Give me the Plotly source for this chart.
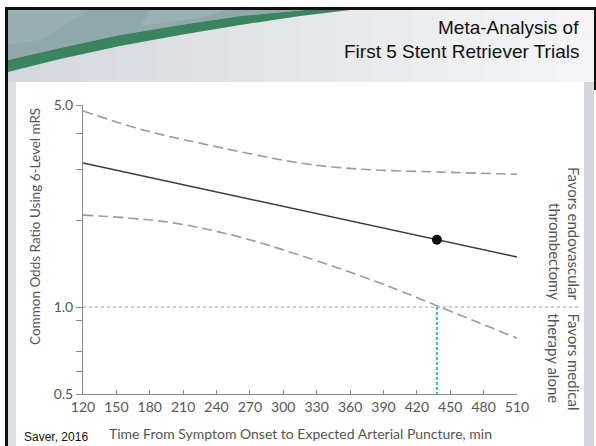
import plotly.graph_objects as go
import math

# ---------------- data ----------------
est_time = [120, 510]
est_or = [3.15, 1.49]

upper_time = [120, 174, 225, 315, 369, 441, 510]
upper_or = [4.77, 4.10, 3.69, 3.15, 3.00, 2.93, 2.88]

lower_time = [120, 195, 255, 315, 387, 438, 510]
lower_or = [2.08, 1.97, 1.77, 1.51, 1.21, 1.01, 0.78]

point_time = [438]
point_or = [1.71]

cross_time = 438
ref_or = 1.0
y_min, y_max = 0.5, 5.0

x_ticks = list(range(120, 511, 30))
y_tickvals = [0.5, 0.6, 0.7, 0.9, 1.0, 2, 3, 4, 5.0]
y_ticktext = ["0.5", "", "", "", "1.0", "", "", "", "5.0"]

# ---------------- layout geometry ----------------
W, H = 596, 446
L, R, T, B = 83, 79, 105, 52
PW, PH = W - L - R, H - T - B


def px(x):
    return (x - L) / PW


def py(y):
    return (H - B - y) / PH


def rect(x0, y0, x1, y1, color):
    return dict(type="rect", xref="paper", yref="paper", layer="below",
                x0=px(x0), x1=px(x1), y0=py(y1), y1=py(y0),
                fillcolor=color, line=dict(width=0))


def path(points, color):
    d = "M " + " L ".join(f"{px(a):.5f},{py(b):.5f}" for a, b in points) + " Z"
    return dict(type="path", xref="paper", yref="paper", layer="below",
                path=d, fillcolor=color, line=dict(width=0))


shapes = []
# content area white + side strips
shapes.append(rect(0, 0, W, H, "#ffffff"))
shapes.append(rect(8, 10, 16, H, "#dfe0e4"))
shapes.append(rect(584, 10, 594, H, "#d5d6db"))

# header gradient
n = 16
c0 = (0xd6, 0xd8, 0xdd)
c1 = (0xf5, 0xf5, 0xf7)
for i in range(n):
    t = i / (n - 1)
    c = tuple(int(c0[k] + (c1[k] - c0[k]) * t) for k in range(3))
    xa = 8 + (594 - 8) * i / n
    xb = 8 + (594 - 8) * (i + 1) / n + 1
    shapes.append(rect(xa, 10, xb, 82, "rgb(%d,%d,%d)" % c))

upper_edge = [(8, 60), (60, 48), (120, 35), (180, 25), (240, 16), (305, 10)]
lower_edge = [(8, 72), (60, 59), (120, 46), (180, 35), (240, 25), (300, 16), (350, 10)]

# teal textured area
shapes.append(path([(8, 10)] + list(reversed(upper_edge)), "#8fa8aa"))
shapes.append(path([(8, 10), (90, 10), (40, 40), (8, 45)], "#98b0b2"))
shapes.append(path([(150, 10), (230, 10), (200, 18), (140, 26)], "#9ab1b3"))
# green band
shapes.append(path(upper_edge + list(reversed(lower_edge)), "#3a8560"))

# black frame lines
shapes.append(rect(5, 7, W, 10, "#111111"))
shapes.append(rect(5, 7, 8, H, "#111111"))
shapes.append(rect(594, 7, W, 90, "#111111"))

# reference line at OR = 1.0 (extends into the right label area)
y_ref_paper = (math.log10(ref_or) - math.log10(y_min)) / (math.log10(y_max) - math.log10(y_min))
shapes.append(dict(type="line", xref="paper", yref="paper", layer="below",
                   x0=0, x1=px(578), y0=y_ref_paper, y1=y_ref_paper,
                   line=dict(color="#9a9a9a", width=1, dash="dot")))

fig = go.Figure()

fig.add_trace(go.Scatter(x=upper_time, y=upper_or, mode="lines", line_shape="spline",
                         line=dict(color="#9b9b9b", width=1.6, dash="10px,5px"),
                         hoverinfo="skip", showlegend=False))
fig.add_trace(go.Scatter(x=lower_time, y=lower_or, mode="lines", line_shape="spline",
                         line=dict(color="#9b9b9b", width=1.6, dash="10px,5px"),
                         hoverinfo="skip", showlegend=False))
fig.add_trace(go.Scatter(x=[cross_time, cross_time], y=[ref_or, y_min], mode="lines",
                         line=dict(color="#35b5d6", width=2, dash="3px,2px"),
                         hoverinfo="skip", showlegend=False))
fig.add_trace(go.Scatter(x=est_time, y=est_or, mode="lines",
                         line=dict(color="#3a3a3a", width=1.5),
                         hoverinfo="skip", showlegend=False))
fig.add_trace(go.Scatter(x=point_time, y=point_or, mode="markers",
                         marker=dict(color="#111111", size=10),
                         hoverinfo="skip", showlegend=False))

chart_font = "Lato"
FS = 14
annotations = [
    dict(text="Meta-Analysis of", xref="paper", yref="paper", x=px(581), y=py(27),
         xanchor="right", yanchor="middle", showarrow=False,
         font=dict(family="Liberation Sans, Arial", size=19, color="#111111")),
    dict(text="First 5 Stent Retriever Trials", xref="paper", yref="paper", x=px(581), y=py(51),
         xanchor="right", yanchor="middle", showarrow=False,
         font=dict(family="Liberation Sans, Arial", size=19, color="#111111")),
    dict(text="Saver, 2016", xref="paper", yref="paper", x=px(22), y=py(437),
         xanchor="left", yanchor="middle", showarrow=False,
         font=dict(family="Liberation Sans, Arial", size=12, color="#111111")),
    dict(text="Common Odds Ratio Using 6-Level mRS", xref="paper", yref="paper",
         x=px(35), y=py(227), xanchor="center", yanchor="middle", textangle=-90,
         showarrow=False, font=dict(family=chart_font, size=13.5, color="#555555")),
    dict(text="Time From Symptom Onset to Expected Arterial Puncture, min", xref="paper", yref="paper",
         x=px(300), y=py(433), xanchor="center", yanchor="middle",
         showarrow=False, font=dict(family=chart_font, size=FS, color="#555555")),
    dict(text="Favors endovascular<br>thrombectomy", xref="paper", yref="paper",
         x=px(564), y=y_ref_paper, yshift=4, xanchor="center", yanchor="bottom",
         textangle=90, align="right", showarrow=False,
         font=dict(family=chart_font, size=15, color="#555555")),
    dict(text="Favors medical<br>therapy alone", xref="paper", yref="paper",
         x=px(564), y=y_ref_paper, yshift=-4, xanchor="center", yanchor="top",
         textangle=90, align="left", showarrow=False,
         font=dict(family=chart_font, size=15, color="#555555")),
]

fig.update_layout(
    width=W, height=H, autosize=False,
    margin=dict(l=L, r=R, t=T, b=B, pad=0),
    paper_bgcolor="#ffffff", plot_bgcolor="rgba(0,0,0,0)",
    shapes=shapes, annotations=annotations,
    font=dict(family=chart_font, size=FS, color="#555555"),
)
fig.update_xaxes(range=[120, 510], tickvals=x_ticks, ticktext=[str(v) for v in x_ticks],
                 ticks="inside", ticklen=4, tickcolor="#888888",
                 showline=True, linecolor="#888888", linewidth=1,
                 showgrid=False, zeroline=False,
                 tickfont=dict(family=chart_font, size=FS, color="#555555"))
fig.update_yaxes(type="log", range=[math.log10(y_min), math.log10(y_max)],
                 tickvals=y_tickvals, ticktext=y_ticktext,
                 ticks="outside", ticklen=6, tickcolor="#888888",
                 showline=True, linecolor="#888888", linewidth=1,
                 showgrid=False, zeroline=False,
                 tickfont=dict(family=chart_font, size=FS, color="#555555"))

fig.write_html("out.html", config={"displayModeBar": False},
               post_script="document.body.style.margin='0';document.body.style.overflow='hidden';")
